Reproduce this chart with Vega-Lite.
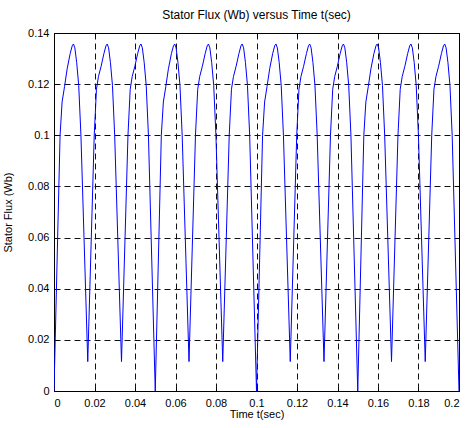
{
  "$schema": "https://vega.github.io/schema/vega-lite/v6.json",
  "autosize": {"type": "none"},
  "padding": {"left": 54, "top": 33, "right": 8, "bottom": 37},
  "width": 405,
  "height": 358,
  "background": "white",
  "title": {"text": "Stator Flux (Wb) versus Time t(sec)", "font": "Liberation Sans", "fontSize": 12, "fontWeight": "normal", "color": "#000", "offset": 5},
  "config": {
    "view": {"stroke": "#000", "strokeWidth": 1},
    "axis": {"labelFont": "Liberation Sans", "labelFontSize": 11, "labelColor": "#000", "titleFont": "Liberation Sans", "titleFontSize": 11, "titleFontWeight": "normal", "titleColor": "#000", "domainColor": "#000", "tickColor": "#000", "gridColor": "#111", "gridDash": [6, 4], "gridOpacity": 1, "gridWidth": 1, "tickSize": -4, "labelPadding": 9}
  },
  "data": {"values": [
    {"t": 0, "flux": 0},
    {"t": 0.0030, "flux": 0.100},
    {"t": 0.0040, "flux": 0.113},
    {"t": 0.0052, "flux": 0.119},
    {"t": 0.0065, "flux": 0.126},
    {"t": 0.0080, "flux": 0.132},
    {"t": 0.0090, "flux": 0.1350},
    {"t": 0.0096, "flux": 0.1357},
    {"t": 0.0103, "flux": 0.1342},
    {"t": 0.0112, "flux": 0.1285},
    {"t": 0.0122, "flux": 0.1195},
    {"t": 0.0133, "flux": 0.100},
    {"t": 0.016667, "flux": 0.0115},
    {"t": 0.019867, "flux": 0.100},
    {"t": 0.020967, "flux": 0.118},
    {"t": 0.021967, "flux": 0.123},
    {"t": 0.023267, "flux": 0.127},
    {"t": 0.024667, "flux": 0.132},
    {"t": 0.025667, "flux": 0.1350},
    {"t": 0.026267, "flux": 0.1357},
    {"t": 0.026967, "flux": 0.1342},
    {"t": 0.027867, "flux": 0.1285},
    {"t": 0.028867, "flux": 0.1195},
    {"t": 0.029967, "flux": 0.100},
    {"t": 0.033333, "flux": 0.0115},
    {"t": 0.036533, "flux": 0.100},
    {"t": 0.037633, "flux": 0.118},
    {"t": 0.038633, "flux": 0.123},
    {"t": 0.039933, "flux": 0.127},
    {"t": 0.041333, "flux": 0.132},
    {"t": 0.042333, "flux": 0.1350},
    {"t": 0.042933, "flux": 0.1357},
    {"t": 0.043633, "flux": 0.1342},
    {"t": 0.044533, "flux": 0.1285},
    {"t": 0.045533, "flux": 0.1195},
    {"t": 0.046633, "flux": 0.100},
    {"t": 0.05, "flux": 0},
    {"t": 0.0530, "flux": 0.100},
    {"t": 0.0540, "flux": 0.113},
    {"t": 0.0552, "flux": 0.119},
    {"t": 0.0565, "flux": 0.126},
    {"t": 0.0580, "flux": 0.132},
    {"t": 0.0590, "flux": 0.1350},
    {"t": 0.0596, "flux": 0.1357},
    {"t": 0.0603, "flux": 0.1342},
    {"t": 0.0612, "flux": 0.1285},
    {"t": 0.0622, "flux": 0.1195},
    {"t": 0.0633, "flux": 0.100},
    {"t": 0.066667, "flux": 0.0115},
    {"t": 0.069867, "flux": 0.100},
    {"t": 0.070967, "flux": 0.118},
    {"t": 0.071967, "flux": 0.123},
    {"t": 0.073267, "flux": 0.127},
    {"t": 0.074667, "flux": 0.132},
    {"t": 0.075667, "flux": 0.1350},
    {"t": 0.076267, "flux": 0.1357},
    {"t": 0.076967, "flux": 0.1342},
    {"t": 0.077867, "flux": 0.1285},
    {"t": 0.078867, "flux": 0.1195},
    {"t": 0.079967, "flux": 0.100},
    {"t": 0.083333, "flux": 0.0115},
    {"t": 0.086533, "flux": 0.100},
    {"t": 0.087633, "flux": 0.118},
    {"t": 0.088633, "flux": 0.123},
    {"t": 0.089933, "flux": 0.127},
    {"t": 0.091333, "flux": 0.132},
    {"t": 0.092333, "flux": 0.1350},
    {"t": 0.092933, "flux": 0.1357},
    {"t": 0.093633, "flux": 0.1342},
    {"t": 0.094533, "flux": 0.1285},
    {"t": 0.095533, "flux": 0.1195},
    {"t": 0.096633, "flux": 0.100},
    {"t": 0.1, "flux": 0},
    {"t": 0.1030, "flux": 0.100},
    {"t": 0.1040, "flux": 0.113},
    {"t": 0.1052, "flux": 0.119},
    {"t": 0.1065, "flux": 0.126},
    {"t": 0.1080, "flux": 0.132},
    {"t": 0.1090, "flux": 0.1350},
    {"t": 0.1096, "flux": 0.1357},
    {"t": 0.1103, "flux": 0.1342},
    {"t": 0.1112, "flux": 0.1285},
    {"t": 0.1122, "flux": 0.1195},
    {"t": 0.1133, "flux": 0.100},
    {"t": 0.116667, "flux": 0.0115},
    {"t": 0.119867, "flux": 0.100},
    {"t": 0.120967, "flux": 0.118},
    {"t": 0.121967, "flux": 0.123},
    {"t": 0.123267, "flux": 0.127},
    {"t": 0.124667, "flux": 0.132},
    {"t": 0.125667, "flux": 0.1350},
    {"t": 0.126267, "flux": 0.1357},
    {"t": 0.126967, "flux": 0.1342},
    {"t": 0.127867, "flux": 0.1285},
    {"t": 0.128867, "flux": 0.1195},
    {"t": 0.129967, "flux": 0.100},
    {"t": 0.133333, "flux": 0.0115},
    {"t": 0.136533, "flux": 0.100},
    {"t": 0.137633, "flux": 0.118},
    {"t": 0.138633, "flux": 0.123},
    {"t": 0.139933, "flux": 0.127},
    {"t": 0.141333, "flux": 0.132},
    {"t": 0.142333, "flux": 0.1350},
    {"t": 0.142933, "flux": 0.1357},
    {"t": 0.143633, "flux": 0.1342},
    {"t": 0.144533, "flux": 0.1285},
    {"t": 0.145533, "flux": 0.1195},
    {"t": 0.146633, "flux": 0.100},
    {"t": 0.15, "flux": 0},
    {"t": 0.1530, "flux": 0.100},
    {"t": 0.1540, "flux": 0.113},
    {"t": 0.1552, "flux": 0.119},
    {"t": 0.1565, "flux": 0.126},
    {"t": 0.1580, "flux": 0.132},
    {"t": 0.1590, "flux": 0.1350},
    {"t": 0.1596, "flux": 0.1357},
    {"t": 0.1603, "flux": 0.1342},
    {"t": 0.1612, "flux": 0.1285},
    {"t": 0.1622, "flux": 0.1195},
    {"t": 0.1633, "flux": 0.100},
    {"t": 0.166667, "flux": 0.0115},
    {"t": 0.169867, "flux": 0.100},
    {"t": 0.170967, "flux": 0.118},
    {"t": 0.171967, "flux": 0.123},
    {"t": 0.173267, "flux": 0.127},
    {"t": 0.174667, "flux": 0.132},
    {"t": 0.175667, "flux": 0.1350},
    {"t": 0.176267, "flux": 0.1357},
    {"t": 0.176967, "flux": 0.1342},
    {"t": 0.177867, "flux": 0.1285},
    {"t": 0.178867, "flux": 0.1195},
    {"t": 0.179967, "flux": 0.100},
    {"t": 0.183333, "flux": 0.0115},
    {"t": 0.186533, "flux": 0.100},
    {"t": 0.187633, "flux": 0.118},
    {"t": 0.188633, "flux": 0.123},
    {"t": 0.189933, "flux": 0.127},
    {"t": 0.191333, "flux": 0.132},
    {"t": 0.192333, "flux": 0.1350},
    {"t": 0.192933, "flux": 0.1357},
    {"t": 0.193633, "flux": 0.1342},
    {"t": 0.194533, "flux": 0.1285},
    {"t": 0.195533, "flux": 0.1195},
    {"t": 0.196633, "flux": 0.100},
    {"t": 0.2, "flux": 0}
  ]},
  "layer": [
    {
      "mark": {"type": "line", "color": "#0000FF", "strokeWidth": 1, "clip": true},
      "encoding": {
        "x": {"field": "t", "type": "quantitative", "scale": {"domain": [0, 0.2], "nice": false, "zero": false},
              "axis": {"orient": "bottom", "values": [0, 0.02, 0.04, 0.06, 0.08, 0.1, 0.12, 0.14, 0.16, 0.18, 0.2], "format": "~g", "grid": true, "labelPadding": 10, "title": "Time t(sec)", "titleY": 26.5, "titleBaseline": "alphabetic"}},
        "y": {"field": "flux", "type": "quantitative", "scale": {"domain": [0, 0.14], "nice": false},
              "axis": {"orient": "left", "values": [0, 0.02, 0.04, 0.06, 0.08, 0.1, 0.12, 0.14], "format": "~g", "grid": true, "title": "Stator Flux (Wb)", "titleX": -46, "titleY": 179, "titleAngle": 270, "titleAlign": "center", "titleBaseline": "middle"}}
      }
    },
    {
      "mark": {"type": "line", "strokeOpacity": 0},
      "encoding": {
        "x": {"field": "t", "type": "quantitative", "axis": {"orient": "top", "values": [0, 0.02, 0.04, 0.06, 0.08, 0.1, 0.12, 0.14, 0.16, 0.18, 0.2], "labels": false, "grid": false, "title": null}},
        "y": {"field": "flux", "type": "quantitative", "axis": {"orient": "right", "values": [0, 0.02, 0.04, 0.06, 0.08, 0.1, 0.12, 0.14], "labels": false, "grid": false, "title": null}}
      }
    }
  ],
  "resolve": {"axis": {"x": "independent", "y": "independent"}}
}
